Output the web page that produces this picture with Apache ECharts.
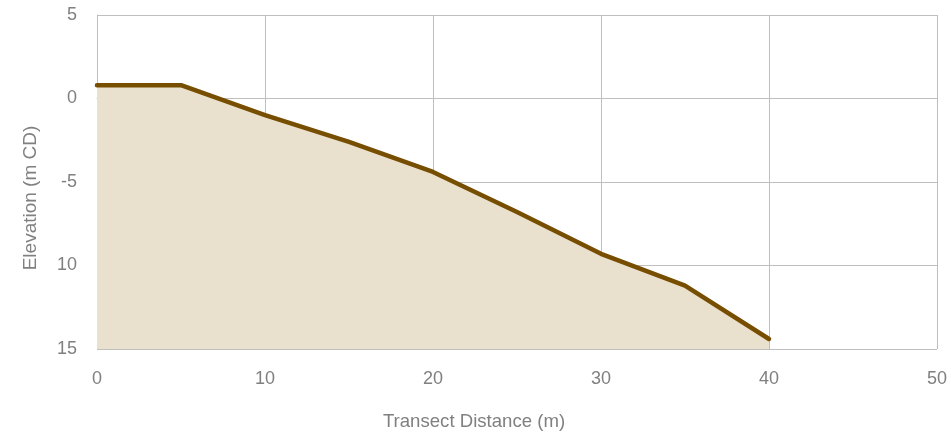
<!DOCTYPE html>
<html>
<head>
<meta charset="utf-8">
<script src="https://cdn.jsdelivr.net/npm/echarts@6/dist/echarts.min.js"></script>
<style>
  html, body { margin: 0; padding: 0; background: #fff; }
  #chart { width: 951px; height: 436px; }
</style>
</head>
<body>
<div id="chart"></div>
<script>
// Beach profile along the transect
const distance = [0, 5, 10, 15, 20, 25, 30, 35, 40];
const elevation = [0.8, 0.8, -1.0, -2.6, -4.4, -6.8, -9.3, -11.2, -14.4];

// Elevation tick values and the text printed beside them
const yTicks = [5, 0, -5, -10, -15];
const yTickLabels = ['5', '0', '-5', '10', '15'];

const chart = echarts.init(document.getElementById('chart'));
const grey = '#bfbfbf';
const textColor = '#808080';
const font = 'Liberation Sans, Arial, sans-serif';

chart.setOption({
  animation: false,
  grid: { left: 97, right: 14, top: 15, bottom: 86 },
  xAxis: {
    type: 'value', min: 0, max: 50, interval: 10,
    name: 'Transect Distance (m)', nameLocation: 'middle', nameGap: 63,
    nameTextStyle: { color: textColor, fontSize: 18.6, fontFamily: font, padding: [0, 86, 0, 0] },
    axisLine: { show: true, lineStyle: { color: grey } },
    axisTick: { show: false },
    axisLabel: { color: textColor, fontSize: 18, fontFamily: font, margin: 21 },
    splitLine: { show: true, lineStyle: { color: grey, width: 1 } }
  },
  yAxis: {
    type: 'value', min: -15, max: 5, interval: 5,
    name: 'Elevation (m CD)', nameLocation: 'middle', nameGap: 57, nameRotate: 90,
    nameTextStyle: { color: textColor, fontSize: 19, fontFamily: font, padding: [0, 32, 0, 0] },
    axisLine: { show: true, lineStyle: { color: grey } },
    axisTick: { show: false },
    axisLabel: {
      color: textColor, fontSize: 18, fontFamily: font, margin: 20,
      formatter: v => {
        const i = yTicks.indexOf(v);
        return i >= 0 ? yTickLabels[i] : String(v);
      }
    },
    splitLine: { show: true, lineStyle: { color: grey, width: 1 } }
  },
  series: [{
    type: 'line',
    data: distance.map((d, i) => [d, elevation[i]]),
    symbol: 'none',
    lineStyle: { color: '#774e00', width: 4.5, cap: 'round', join: 'round' },
    areaStyle: { color: '#e9e0ce', opacity: 1, origin: 'start' },
    z: 3
  }]
});
</script>
</body>
</html>
